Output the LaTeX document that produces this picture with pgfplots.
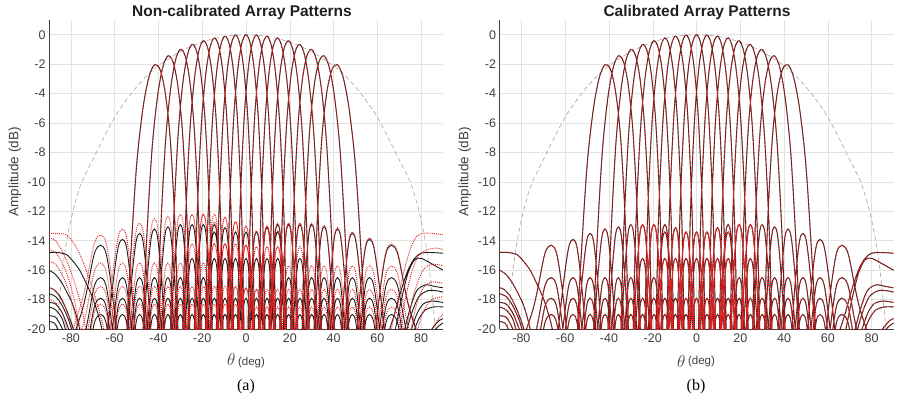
\documentclass[border=0pt]{standalone}
\usepackage{fontspec}
\setmainfont{Liberation Sans}
\newfontfamily\capfont{Liberation Serif}
\usepackage{pgfplots}
\usepackage{pgfplotstable}
\pgfplotsset{compat=1.18}
\definecolor{trace}{RGB}{228,32,32}
\definecolor{ink}{RGB}{28,28,28}
\definecolor{lbl}{RGB}{64,64,64}

% Steered beams of the 12-element array: angle (deg), ideal (dB), uncalibrated (dB)
\pgfplotstableread{
th id nc
-56.44 -25 -25
-53.13 -23.6 -22.9
-50.06 -19.44 -18.74
-47.17 -19.44 -18.74
-44.43 -23.6 -22.9
-41.81 -25 -25
-39.30 -22.5 -21.7
-36.87 -18.34 -17.54
-34.52 -18.34 -17.54
-32.23 -22.5 -21.7
-30.00 -25 -25
-27.82 -19.8 -18.8
-25.68 -15.64 -14.64
-23.58 -15.64 -14.64
-21.51 -19.8 -18.8
-19.47 -25 -25
-17.46 -18.0 -17.3
-15.47 -13.84 -13.14
-13.49 -13.84 -13.14
-11.54 -18.0 -17.3
-9.59 -25 -25
-7.66 -12.68 -12.68
-5.74 -5.97 -5.97
-3.82 -2.44 -2.44
-1.91 -0.58 -0.58
0 0 0
1.91 -0.58 -0.58
3.82 -2.44 -2.44
5.74 -5.97 -5.97
7.66 -12.68 -12.68
9.59 -25 -25
11.54 -18.0 -17.9
13.49 -13.84 -13.74
15.47 -13.84 -13.74
17.46 -18.0 -17.9
19.47 -25 -25
21.51 -19.8 -19.0
23.58 -15.64 -14.84
25.68 -15.64 -14.84
27.82 -19.8 -19.0
30.00 -25 -25
32.23 -22.5 -21.9
34.52 -18.34 -17.74
36.87 -18.34 -17.74
39.30 -22.5 -21.9
41.81 -25 -25
44.43 -23.6 -23.1
47.17 -19.44 -18.94
50.06 -19.44 -18.94
53.13 -23.6 -23.1
56.44 -25 -25
nan nan nan
-48.59 -25 -25
-45.78 -23.6 -22.9
-43.11 -19.44 -18.74
-40.54 -19.44 -18.74
-38.07 -23.6 -22.9
-35.69 -25 -25
-33.37 -22.5 -21.7
-31.11 -18.34 -17.54
-28.90 -18.34 -17.54
-26.74 -22.5 -21.7
-24.62 -25 -25
-22.54 -21.1 -20.1
-20.49 -16.94 -15.94
-18.46 -16.94 -15.94
-16.46 -21.1 -20.1
-14.48 -25 -25
-12.51 -17.7 -17.0
-10.56 -13.54 -12.84
-8.63 -13.54 -12.84
-6.70 -17.7 -17.0
-4.78 -25 -25
-2.87 -12.63 -12.63
-0.95 -5.94 -5.94
0.95 -2.42 -2.42
2.87 -0.59 -0.59
4.78 -0.02 -0.02
6.70 -0.63 -0.63
8.63 -2.50 -2.50
10.56 -6.06 -6.06
12.51 -12.79 -12.79
14.48 -25 -25
16.46 -17.5 -17.4
18.46 -13.34 -13.24
20.49 -13.34 -13.24
22.54 -17.5 -17.4
24.62 -25 -25
26.74 -21.1 -20.3
28.90 -16.94 -16.14
31.11 -16.94 -16.14
33.37 -21.1 -20.3
35.69 -25 -25
38.07 -22.5 -21.9
40.54 -18.34 -17.74
43.11 -18.34 -17.74
45.78 -22.5 -21.9
48.59 -25 -25
51.57 -23.6 -23.1
54.75 -19.44 -18.94
58.21 -19.44 -18.94
62.05 -23.6 -23.1
66.45 -25 -25
nan nan nan
-41.81 -25 -25
-39.30 -23.6 -22.9
-36.87 -19.44 -18.74
-34.52 -19.44 -18.74
-32.23 -23.6 -22.9
-30.00 -25 -25
-27.82 -22.5 -21.7
-25.68 -18.34 -17.54
-23.58 -18.34 -17.54
-21.51 -22.5 -21.7
-19.47 -25 -25
-17.46 -19.8 -18.8
-15.47 -15.64 -14.64
-13.49 -15.64 -14.64
-11.54 -19.8 -18.8
-9.59 -25 -25
-7.66 -18.0 -17.3
-5.74 -13.84 -13.14
-3.82 -13.84 -13.14
-1.91 -18.0 -17.3
0 -25 -25
1.91 -12.62 -12.62
3.82 -5.96 -5.96
5.74 -2.46 -2.46
7.66 -0.64 -0.64
9.59 -0.10 -0.10
11.54 -0.72 -0.72
13.49 -2.61 -2.61
15.47 -6.20 -6.20
17.46 -12.95 -12.95
19.47 -25 -25
21.51 -17.5 -17.4
23.58 -13.34 -13.24
25.68 -13.34 -13.24
27.82 -17.5 -17.4
30.00 -25 -25
32.23 -21.1 -20.3
34.52 -16.94 -16.14
36.87 -16.94 -16.14
39.30 -21.1 -20.3
41.81 -25 -25
44.43 -22.5 -21.9
47.17 -18.34 -17.74
50.06 -18.34 -17.74
53.13 -22.5 -21.9
56.44 -25 -25
60.07 -23.6 -23.1
64.16 -19.44 -18.94
68.96 -19.44 -18.94
75.17 -23.6 -23.1
90 -25 -25
nan nan nan
-35.69 -25 -25
-33.37 -23.6 -22.9
-31.11 -19.44 -18.74
-28.90 -19.44 -18.74
-26.74 -23.6 -22.9
-24.62 -25 -25
-22.54 -22.5 -21.7
-20.49 -18.34 -17.54
-18.46 -18.34 -17.54
-16.46 -22.5 -21.7
-14.48 -25 -25
-12.51 -19.8 -18.8
-10.56 -15.64 -14.64
-8.63 -15.64 -14.64
-6.70 -19.8 -18.8
-4.78 -25 -25
-2.87 -18.0 -17.6
-0.95 -13.84 -13.44
0.95 -13.84 -13.44
2.87 -18.0 -17.6
4.78 -25 -25
6.70 -12.67 -12.67
8.63 -6.02 -6.02
10.56 -2.54 -2.54
12.51 -0.75 -0.75
14.48 -0.22 -0.22
16.46 -0.87 -0.87
18.46 -2.79 -2.79
20.49 -6.39 -6.39
22.54 -13.17 -13.17
24.62 -25 -25
26.74 -17.5 -17.4
28.90 -13.34 -13.24
31.11 -13.34 -13.24
33.37 -17.5 -17.4
35.69 -25 -25
38.07 -21.1 -20.3
40.54 -16.94 -16.14
43.11 -16.94 -16.14
45.78 -21.1 -20.3
48.59 -25 -25
51.57 -22.5 -21.9
54.75 -18.34 -17.74
58.21 -18.34 -17.74
62.05 -22.5 -21.9
66.45 -25 -25
nan nan nan
-30.00 -25 -25
-27.82 -23.6 -22.9
-25.68 -19.44 -18.74
-23.58 -19.44 -18.74
-21.51 -23.6 -22.9
-19.47 -25 -25
-17.46 -22.5 -21.7
-15.47 -18.34 -17.54
-13.49 -18.34 -17.54
-11.54 -22.5 -21.7
-9.59 -25 -25
-7.66 -19.8 -18.8
-5.74 -15.64 -14.64
-3.82 -15.64 -14.64
-1.91 -19.8 -18.8
0 -25 -25
1.91 -18.0 -17.9
3.82 -13.84 -13.74
5.74 -13.84 -13.74
7.66 -18.0 -17.9
9.59 -25 -25
11.54 -12.76 -12.76
13.49 -6.13 -6.13
15.47 -2.68 -2.68
17.46 -0.91 -0.91
19.47 -0.41 -0.41
21.51 -1.08 -1.08
23.58 -3.03 -3.03
25.68 -6.66 -6.66
27.82 -13.47 -13.47
30.00 -25 -25
32.23 -17.65 -17.55
34.52 -13.49 -13.39
36.87 -13.49 -13.39
39.30 -17.65 -17.55
41.81 -25 -25
44.43 -21.1 -20.3
47.17 -16.94 -16.14
50.06 -16.94 -16.14
53.13 -21.1 -20.3
56.44 -25 -25
60.07 -22.5 -21.9
64.16 -18.34 -17.74
68.96 -18.34 -17.74
75.17 -22.5 -21.9
90 -25 -25
nan nan nan
-24.62 -25 -25
-22.54 -23.6 -22.9
-20.49 -19.44 -18.74
-18.46 -19.44 -18.74
-16.46 -23.6 -22.9
-14.48 -25 -25
-12.51 -22.5 -21.7
-10.56 -18.34 -17.54
-8.63 -18.34 -17.54
-6.70 -22.5 -21.7
-4.78 -25 -25
-2.87 -19.8 -18.9
-0.95 -15.64 -14.74
0.95 -15.64 -14.74
2.87 -19.8 -18.9
4.78 -25 -25
6.70 -17.7 -17.6
8.63 -13.54 -13.44
10.56 -13.54 -13.44
12.51 -17.7 -17.6
14.48 -25 -25
16.46 -12.91 -12.91
18.46 -6.31 -6.31
20.49 -2.87 -2.87
22.54 -1.13 -1.13
24.62 -0.66 -0.66
26.74 -1.37 -1.37
28.90 -3.35 -3.35
31.11 -7.02 -7.02
33.37 -13.87 -13.87
35.69 -25 -25
38.07 -17.8 -17.7
40.54 -13.64 -13.54
43.11 -13.64 -13.54
45.78 -17.8 -17.7
48.59 -25 -25
51.57 -21.1 -20.3
54.75 -16.94 -16.14
58.21 -16.94 -16.14
62.05 -21.1 -20.3
66.45 -25 -25
nan nan nan
-19.47 -25 -25
-17.46 -23.6 -22.9
-15.47 -19.44 -18.74
-13.49 -19.44 -18.74
-11.54 -23.6 -22.9
-9.59 -25 -25
-7.66 -22.5 -21.7
-5.74 -18.34 -17.54
-3.82 -18.34 -17.54
-1.91 -22.5 -21.7
0 -25 -25
1.91 -19.8 -19.0
3.82 -15.64 -14.84
5.74 -15.64 -14.84
7.66 -19.8 -19.0
9.59 -25 -25
11.54 -17.5 -17.4
13.49 -13.34 -13.24
15.47 -13.34 -13.24
17.46 -17.5 -17.4
19.47 -25 -25
21.51 -13.12 -13.12
23.58 -6.55 -6.55
25.68 -3.14 -3.14
27.82 -1.43 -1.43
30.00 -1.00 -1.00
32.23 -1.74 -1.74
34.52 -3.77 -3.77
36.87 -7.49 -7.49
39.30 -14.40 -14.40
41.81 -25 -25
44.43 -18.1 -18.0
47.17 -13.94 -13.84
50.06 -13.94 -13.84
53.13 -18.1 -18.0
56.44 -25 -25
60.07 -21.1 -20.3
64.16 -16.94 -16.14
68.96 -16.94 -16.14
75.17 -21.1 -20.3
90 -25 -25
nan nan nan
-14.48 -25 -25
-12.51 -23.6 -22.9
-10.56 -19.44 -18.74
-8.63 -19.44 -18.74
-6.70 -23.6 -22.9
-4.78 -25 -25
-2.87 -22.5 -21.8
-0.95 -18.34 -17.64
0.95 -18.34 -17.64
2.87 -22.5 -21.8
4.78 -25 -25
6.70 -19.8 -19.0
8.63 -15.64 -14.84
10.56 -15.64 -14.84
12.51 -19.8 -19.0
14.48 -25 -25
16.46 -17.5 -17.4
18.46 -13.34 -13.24
20.49 -13.34 -13.24
22.54 -17.5 -17.4
24.62 -25 -25
26.74 -13.41 -13.41
28.90 -6.87 -6.87
31.11 -3.50 -3.50
33.37 -1.83 -1.83
35.69 -1.44 -1.44
38.07 -2.24 -2.24
40.54 -4.33 -4.33
43.11 -8.13 -8.13
45.78 -15.12 -15.12
48.59 -25 -25
51.57 -18.5 -18.4
54.75 -14.34 -14.24
58.21 -14.34 -14.24
62.05 -18.5 -18.4
66.45 -25 -25
nan nan nan
-9.59 -25 -25
-7.66 -23.6 -22.9
-5.74 -19.44 -18.74
-3.82 -19.44 -18.74
-1.91 -23.6 -22.9
0 -25 -25
1.91 -22.5 -21.9
3.82 -18.34 -17.74
5.74 -18.34 -17.74
7.66 -22.5 -21.9
9.59 -25 -25
11.54 -19.8 -19.0
13.49 -15.64 -14.84
15.47 -15.64 -14.84
17.46 -19.8 -19.0
19.47 -25 -25
21.51 -17.5 -17.4
23.58 -13.34 -13.24
25.68 -13.34 -13.24
27.82 -17.5 -17.4
30.00 -25 -25
32.23 -13.78 -13.78
34.52 -7.29 -7.29
36.87 -3.97 -3.97
39.30 -2.36 -2.36
41.81 -2.04 -2.04
44.43 -2.92 -2.92
47.17 -5.10 -5.10
50.06 -9.02 -9.02
53.13 -16.17 -16.17
56.44 -25 -25
60.07 -18.9 -18.8
64.16 -14.74 -14.64
68.96 -14.74 -14.64
75.17 -18.9 -18.8
90 -25 -25
nan nan nan
48.59 -25 -25
45.78 -23.6 -23.1
43.11 -19.44 -18.94
40.54 -19.44 -18.94
38.07 -23.6 -23.1
35.69 -25 -25
33.37 -22.5 -21.9
31.11 -18.34 -17.74
28.90 -18.34 -17.74
26.74 -22.5 -21.9
24.62 -25 -25
22.54 -21.1 -20.3
20.49 -16.94 -16.14
18.46 -16.94 -16.14
16.46 -21.1 -20.3
14.48 -25 -25
12.51 -17.7 -17.6
10.56 -13.54 -13.44
8.63 -13.54 -13.44
6.70 -17.7 -17.6
4.78 -25 -25
2.87 -12.63 -12.63
0.95 -5.94 -5.94
-0.95 -2.42 -2.42
-2.87 -0.59 -0.59
-4.78 -0.02 -0.02
-6.70 -0.63 -0.63
-8.63 -2.50 -2.50
-10.56 -6.06 -6.06
-12.51 -12.79 -12.79
-14.48 -25 -25
-16.46 -17.5 -16.8
-18.46 -13.34 -12.64
-20.49 -13.34 -12.64
-22.54 -17.5 -16.8
-24.62 -25 -25
-26.74 -21.1 -20.1
-28.90 -16.94 -15.94
-31.11 -16.94 -15.94
-33.37 -21.1 -20.1
-35.69 -25 -25
-38.07 -22.5 -21.7
-40.54 -18.34 -17.54
-43.11 -18.34 -17.54
-45.78 -22.5 -21.7
-48.59 -25 -25
-51.57 -23.6 -22.9
-54.75 -19.44 -18.74
-58.21 -19.44 -18.74
-62.05 -23.6 -22.9
-66.45 -25 -25
nan nan nan
41.81 -25 -25
39.30 -23.6 -23.1
36.87 -19.44 -18.94
34.52 -19.44 -18.94
32.23 -23.6 -23.1
30.00 -25 -25
27.82 -22.5 -21.9
25.68 -18.34 -17.74
23.58 -18.34 -17.74
21.51 -22.5 -21.9
19.47 -25 -25
17.46 -19.8 -19.0
15.47 -15.64 -14.84
13.49 -15.64 -14.84
11.54 -19.8 -19.0
9.59 -25 -25
7.66 -18.0 -17.9
5.74 -13.84 -13.74
3.82 -13.84 -13.74
1.91 -18.0 -17.9
0 -25 -25
-1.91 -12.62 -12.62
-3.82 -5.96 -5.96
-5.74 -2.46 -2.46
-7.66 -0.64 -0.64
-9.59 -0.10 -0.10
-11.54 -0.72 -0.72
-13.49 -2.61 -2.61
-15.47 -6.20 -6.20
-17.46 -12.95 -12.95
-19.47 -25 -25
-21.51 -17.5 -16.8
-23.58 -13.34 -12.64
-25.68 -13.34 -12.64
-27.82 -17.5 -16.8
-30.00 -25 -25
-32.23 -21.1 -20.1
-34.52 -16.94 -15.94
-36.87 -16.94 -15.94
-39.30 -21.1 -20.1
-41.81 -25 -25
-44.43 -22.5 -21.7
-47.17 -18.34 -17.54
-50.06 -18.34 -17.54
-53.13 -22.5 -21.7
-56.44 -25 -25
-60.07 -23.6 -22.9
-64.16 -19.44 -18.74
-68.96 -19.44 -18.74
-75.17 -23.6 -22.9
-90 -25 -25
nan nan nan
35.69 -25 -25
33.37 -23.6 -23.1
31.11 -19.44 -18.94
28.90 -19.44 -18.94
26.74 -23.6 -23.1
24.62 -25 -25
22.54 -22.5 -21.9
20.49 -18.34 -17.74
18.46 -18.34 -17.74
16.46 -22.5 -21.9
14.48 -25 -25
12.51 -19.8 -19.0
10.56 -15.64 -14.84
8.63 -15.64 -14.84
6.70 -19.8 -19.0
4.78 -25 -25
2.87 -18.0 -17.6
0.95 -13.84 -13.44
-0.95 -13.84 -13.44
-2.87 -18.0 -17.6
-4.78 -25 -25
-6.70 -12.67 -12.67
-8.63 -6.02 -6.02
-10.56 -2.54 -2.54
-12.51 -0.75 -0.75
-14.48 -0.22 -0.22
-16.46 -0.87 -0.87
-18.46 -2.79 -2.79
-20.49 -6.39 -6.39
-22.54 -13.17 -13.17
-24.62 -25 -25
-26.74 -17.5 -16.8
-28.90 -13.34 -12.64
-31.11 -13.34 -12.64
-33.37 -17.5 -16.8
-35.69 -25 -25
-38.07 -21.1 -20.1
-40.54 -16.94 -15.94
-43.11 -16.94 -15.94
-45.78 -21.1 -20.1
-48.59 -25 -25
-51.57 -22.5 -21.7
-54.75 -18.34 -17.54
-58.21 -18.34 -17.54
-62.05 -22.5 -21.7
-66.45 -25 -25
nan nan nan
30.00 -25 -25
27.82 -23.6 -23.1
25.68 -19.44 -18.94
23.58 -19.44 -18.94
21.51 -23.6 -23.1
19.47 -25 -25
17.46 -22.5 -21.9
15.47 -18.34 -17.74
13.49 -18.34 -17.74
11.54 -22.5 -21.9
9.59 -25 -25
7.66 -19.8 -19.0
5.74 -15.64 -14.84
3.82 -15.64 -14.84
1.91 -19.8 -19.0
0 -25 -25
-1.91 -18.0 -17.3
-3.82 -13.84 -13.14
-5.74 -13.84 -13.14
-7.66 -18.0 -17.3
-9.59 -25 -25
-11.54 -12.76 -12.76
-13.49 -6.13 -6.13
-15.47 -2.68 -2.68
-17.46 -0.91 -0.91
-19.47 -0.41 -0.41
-21.51 -1.08 -1.08
-23.58 -3.03 -3.03
-25.68 -6.66 -6.66
-27.82 -13.47 -13.47
-30.00 -25 -25
-32.23 -17.65 -16.95
-34.52 -13.49 -12.79
-36.87 -13.49 -12.79
-39.30 -17.65 -16.95
-41.81 -25 -25
-44.43 -21.1 -20.1
-47.17 -16.94 -15.94
-50.06 -16.94 -15.94
-53.13 -21.1 -20.1
-56.44 -25 -25
-60.07 -22.5 -21.7
-64.16 -18.34 -17.54
-68.96 -18.34 -17.54
-75.17 -22.5 -21.7
-90 -25 -25
nan nan nan
24.62 -25 -25
22.54 -23.6 -23.1
20.49 -19.44 -18.94
18.46 -19.44 -18.94
16.46 -23.6 -23.1
14.48 -25 -25
12.51 -22.5 -21.9
10.56 -18.34 -17.74
8.63 -18.34 -17.74
6.70 -22.5 -21.9
4.78 -25 -25
2.87 -19.8 -18.9
0.95 -15.64 -14.74
-0.95 -15.64 -14.74
-2.87 -19.8 -18.9
-4.78 -25 -25
-6.70 -17.7 -17.0
-8.63 -13.54 -12.84
-10.56 -13.54 -12.84
-12.51 -17.7 -17.0
-14.48 -25 -25
-16.46 -12.91 -12.91
-18.46 -6.31 -6.31
-20.49 -2.87 -2.87
-22.54 -1.13 -1.13
-24.62 -0.66 -0.66
-26.74 -1.37 -1.37
-28.90 -3.35 -3.35
-31.11 -7.02 -7.02
-33.37 -13.87 -13.87
-35.69 -25 -25
-38.07 -17.8 -17.1
-40.54 -13.64 -12.94
-43.11 -13.64 -12.94
-45.78 -17.8 -17.1
-48.59 -25 -25
-51.57 -21.1 -20.1
-54.75 -16.94 -15.94
-58.21 -16.94 -15.94
-62.05 -21.1 -20.1
-66.45 -25 -25
nan nan nan
19.47 -25 -25
17.46 -23.6 -23.1
15.47 -19.44 -18.94
13.49 -19.44 -18.94
11.54 -23.6 -23.1
9.59 -25 -25
7.66 -22.5 -21.9
5.74 -18.34 -17.74
3.82 -18.34 -17.74
1.91 -22.5 -21.9
0 -25 -25
-1.91 -19.8 -18.8
-3.82 -15.64 -14.64
-5.74 -15.64 -14.64
-7.66 -19.8 -18.8
-9.59 -25 -25
-11.54 -17.5 -16.8
-13.49 -13.34 -12.64
-15.47 -13.34 -12.64
-17.46 -17.5 -16.8
-19.47 -25 -25
-21.51 -13.12 -13.12
-23.58 -6.55 -6.55
-25.68 -3.14 -3.14
-27.82 -1.43 -1.43
-30.00 -1.00 -1.00
-32.23 -1.74 -1.74
-34.52 -3.77 -3.77
-36.87 -7.49 -7.49
-39.30 -14.40 -14.40
-41.81 -25 -25
-44.43 -18.1 -17.4
-47.17 -13.94 -13.24
-50.06 -13.94 -13.24
-53.13 -18.1 -17.4
-56.44 -25 -25
-60.07 -21.1 -20.1
-64.16 -16.94 -15.94
-68.96 -16.94 -15.94
-75.17 -21.1 -20.1
-90 -25 -25
nan nan nan
14.48 -25 -25
12.51 -23.6 -23.1
10.56 -19.44 -18.94
8.63 -19.44 -18.94
6.70 -23.6 -23.1
4.78 -25 -25
2.87 -22.5 -21.8
0.95 -18.34 -17.64
-0.95 -18.34 -17.64
-2.87 -22.5 -21.8
-4.78 -25 -25
-6.70 -19.8 -18.8
-8.63 -15.64 -14.64
-10.56 -15.64 -14.64
-12.51 -19.8 -18.8
-14.48 -25 -25
-16.46 -17.5 -16.8
-18.46 -13.34 -12.64
-20.49 -13.34 -12.64
-22.54 -17.5 -16.8
-24.62 -25 -25
-26.74 -13.41 -13.41
-28.90 -6.87 -6.87
-31.11 -3.50 -3.50
-33.37 -1.83 -1.83
-35.69 -1.44 -1.44
-38.07 -2.24 -2.24
-40.54 -4.33 -4.33
-43.11 -8.13 -8.13
-45.78 -15.12 -15.12
-48.59 -25 -25
-51.57 -18.5 -17.8
-54.75 -14.34 -13.64
-58.21 -14.34 -13.64
-62.05 -18.5 -17.8
-66.45 -25 -25
nan nan nan
9.59 -25 -25
7.66 -23.6 -23.1
5.74 -19.44 -18.94
3.82 -19.44 -18.94
1.91 -23.6 -23.1
0 -25 -25
-1.91 -22.5 -21.7
-3.82 -18.34 -17.54
-5.74 -18.34 -17.54
-7.66 -22.5 -21.7
-9.59 -25 -25
-11.54 -19.8 -18.8
-13.49 -15.64 -14.64
-15.47 -15.64 -14.64
-17.46 -19.8 -18.8
-19.47 -25 -25
-21.51 -17.5 -16.8
-23.58 -13.34 -12.64
-25.68 -13.34 -12.64
-27.82 -17.5 -16.8
-30.00 -25 -25
-32.23 -13.78 -13.78
-34.52 -7.29 -7.29
-36.87 -3.97 -3.97
-39.30 -2.36 -2.36
-41.81 -2.04 -2.04
-44.43 -2.92 -2.92
-47.17 -5.10 -5.10
-50.06 -9.02 -9.02
-53.13 -16.17 -16.17
-56.44 -25 -25
-60.07 -18.9 -18.2
-64.16 -14.74 -14.04
-68.96 -14.74 -14.04
-75.17 -18.9 -18.2
-90 -25 -25
}\beams

% Half lobes that peak at endfire, ideal pattern
\pgfplotstableread{
th y
-90 -14.8
-86 -14.8
-82 -14.95
-79 -15.4
-76 -16.0
-73 -16.9
-70 -17.9
-67 -19.3
-65 -20.6
nan nan
-90 -16.0
-87 -16.3
-84 -16.9
-81.5 -17.6
-79.5 -18.2
-77.5 -19.1
-75.5 -20.3
nan nan
-90 -17.2
-88 -17.3
-85 -17.8
-82 -18.7
-79.5 -19.7
-78 -20.5
nan nan
-90 -17.6
-87 -17.8
-84 -18.4
-81 -19.4
-79 -20.4
nan nan
-90 -18.2
-87 -18.3
-84 -18.9
-81.5 -19.8
-80 -20.5
nan nan
-90 -18.5
-87 -18.7
-84 -19.3
-82 -20.3
nan nan
-90 -19.1
-87 -19.2
-84.5 -19.8
-83 -20.4
nan nan
-90 -19.5
-87.5 -19.6
-85 -20.3
nan nan
65 -20.3
68 -18.9
71 -17.3
74 -16.0
77 -15.2
80 -14.85
84 -14.8
90 -14.85
nan nan
68 -20.2
71 -18.0
74 -16.2
77 -15.3
80 -15.2
84 -15.5
90 -16.0
nan nan
72 -20.3
75 -18.6
78 -17.4
82 -17.0
86 -17.1
90 -17.2
nan nan
73 -20.3
76 -18.8
79 -17.8
83 -17.4
87 -17.4
90 -17.5
nan nan
75 -20.3
78 -19.0
81 -18.3
85 -18.1
90 -18.2
nan nan
76 -20.4
79 -19.3
82 -18.7
86 -18.5
90 -18.5
nan nan
84 -20.2
86.5 -19.7
88.5 -19.4
90 -19.3
nan nan
85.5 -20.2
88 -19.8
90 -19.6
}\edgeideal

% Half lobes that peak at endfire, uncalibrated
\pgfplotstableread{
th y
-90 -13.5
-86 -13.5
-82 -13.6
-79 -14.1
-76 -14.9
-73 -16.0
-70 -17.3
-67 -18.8
-64.5 -20.3
nan nan
-90 -13.8
-87 -14.0
-84 -14.7
-81 -15.7
-78 -17.0
-75 -18.6
-73 -20.2
nan nan
-90 -14.6
-87 -14.8
-84 -15.5
-81 -16.6
-78.5 -18.0
-76 -19.8
-75 -20.5
nan nan
-90 -15.4
-87 -15.6
-84 -16.3
-81 -17.4
-78.5 -18.8
-76.5 -20.3
nan nan
-90 -17.2
-87 -17.4
-84 -18.0
-81 -19.1
-79 -20.3
nan nan
-90 -18.0
-87 -18.2
-84 -18.9
-81.5 -20.1
nan nan
66 -20.3
69 -18.2
72 -16.2
75 -14.6
78 -13.7
81 -13.5
85 -13.5
90 -13.6
nan nan
70 -20.3
73 -17.8
76 -16.0
79 -15.0
83 -14.6
87 -14.5
90 -14.6
nan nan
73 -20.3
76 -18.0
79 -16.6
82 -15.8
86 -15.6
90 -15.7
nan nan
75 -20.3
78 -18.3
81 -17.2
85 -16.8
90 -16.9
nan nan
78 -20.3
81 -18.8
85 -18.0
90 -17.8
nan nan
84 -20.3
87 -19.5
90 -19.0
}\edgeraw

% Element pattern
\pgfplotstableread{
th y
-87 -21
-86 -19.2
-84 -16.2
-82 -14.1
-80 -12.6
-78 -11.4
-75 -10.0
-70 -8.5
-65 -7.0
-60 -5.6
-55 -4.5
-50 -3.55
-45 -2.75
-40 -2.1
-30 -1.15
-20 -0.5
-10 -0.12
0 0
10 -0.12
20 -0.5
30 -1.15
40 -2.1
45 -2.75
50 -3.55
55 -4.5
60 -5.6
65 -7.0
70 -8.5
75 -10.0
78 -11.4
80 -12.6
82 -14.1
84 -16.2
86 -19.2
87 -21
}\element

\pgfplotsset{
  patt/.style={
    scale only axis, width=394pt, height=309pt, anchor=south west,
    xmin=-90, xmax=90, ymin=-20, ymax=1,
    xtick={-80,-60,...,80}, ytick={-20,-18,...,0},
    axis x line*=bottom, axis y line*=left,
    axis line style={-, draw=lbl, line width=0.5pt},
    major tick length=0pt,
    grid=major, major grid style={draw=black!11, line width=0.45pt},
    tick label style={font=\fontsize{12.5}{14}\selectfont, text=lbl},
    xticklabel style={yshift=-1pt},
    /pgf/number format/assume math mode=true,
    unbounded coords=jump, clip=true,
  },
  ideal/.style={draw=ink, line width=0.9pt, smooth},
  meas/.style={draw=trace, line width=0.95pt, dash pattern=on 0.95pt off 1.1pt, smooth},
  elem/.style={draw=black!32, line width=0.7pt, dash pattern=on 4.5pt off 3pt, smooth},
}

\begin{document}
\begin{tikzpicture}
\useasboundingbox (0,0) rectangle (902pt,400pt);

\begin{axis}[patt, at={(49pt,71pt)}]
\addplot[elem] table[x=th, y=y] {\element};
\addplot[ideal] table[x=th, y=id] {\beams};
\addplot[ideal] table[x=th, y=y] {\edgeideal};
\addplot[meas] table[x=th, y=nc] {\beams};
\addplot[meas] table[x=th, y=y] {\edgeraw};
\end{axis}

\begin{axis}[patt, at={(499.5pt,71pt)}]
\addplot[elem] table[x=th, y=y] {\element};
\addplot[ideal] table[x=th, y=id] {\beams};
\addplot[ideal] table[x=th, y=y] {\edgeideal};
\addplot[meas] table[x=th, y=id] {\beams};
\addplot[meas] table[x=th, y=y] {\edgeideal};
\end{axis}

\node[font=\bfseries\fontsize{15.5}{17}\selectfont, text=black!88] at (242pt,388pt) {Non-calibrated Array Patterns};
\node[font=\bfseries\fontsize{15.5}{17}\selectfont, text=black!88] at (697pt,388pt) {Calibrated Array Patterns};
\node[rotate=90, font=\fontsize{13.5}{15}\selectfont, text=lbl] at (15pt,228pt) {Amplitude (dB)};
\node[rotate=90, font=\fontsize{13.5}{15}\selectfont, text=lbl] at (465pt,228pt) {Amplitude (dB)};
\node[text=lbl] at (246pt,39pt) {\fontsize{16}{18}\selectfont$\theta$\,\fontsize{11.5}{13}\selectfont(deg)};
\node[text=lbl] at (696pt,39pt) {\fontsize{16}{18}\selectfont$\theta$\,\raisebox{3pt}{\fontsize{11.5}{13}\selectfont(deg)}};
\node[font=\capfont\fontsize{16}{18}\selectfont] at (246pt,13pt) {(a)};
\node[font=\capfont\fontsize{16}{18}\selectfont] at (696pt,13pt) {(b)};
\end{tikzpicture}
\end{document}
